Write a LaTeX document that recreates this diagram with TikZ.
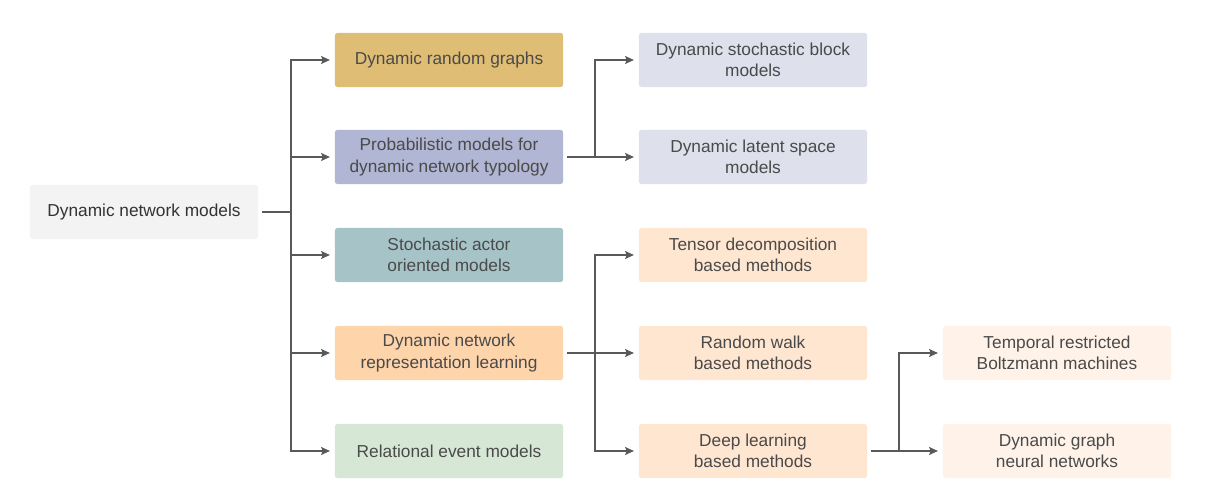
\documentclass[tikz,border=0pt]{standalone}
\usepackage{fontspec}
\setmainfont{Liberation Sans}
\usetikzlibrary{arrows.meta}

\definecolor{txt}{HTML}{4A4A4A}
\definecolor{lnk}{HTML}{595959}
\definecolor{rootfill}{HTML}{F3F3F3}
\definecolor{goldfill}{HTML}{DFBD74}
\definecolor{lilacfill}{HTML}{B0B6D3}
\definecolor{tealfill}{HTML}{A6C4C8}
\definecolor{orangefill}{HTML}{FED4AB}
\definecolor{greenfill}{HTML}{D6E8D5}
\definecolor{palelilac}{HTML}{DEE0EC}
\definecolor{paleorange}{HTML}{FFE6D1}
\definecolor{paleorangeii}{HTML}{FFF3E9}

\begin{document}
\begin{tikzpicture}[x=0.025cm,y=-0.025cm,
    box/.style={rounded corners=0.06cm, minimum width=5.7cm, minimum height=1.35cm,
        inner sep=0pt, align=center, text=txt, font=\fontsize{12.3}{15}\selectfont},
    link/.style={draw=lnk, line width=0.85pt},
    from/.style={shorten <=0.1cm},
    arr/.style={link, -{Stealth[length=0.22cm,width=0.2cm,inset=0.04cm]}, shorten >=0.12cm}]
    \useasboundingbox (0,0) rectangle (1215,490);
    % root
    \node[box, fill=rootfill, text=black!80] (root) at (144,212) {Dynamic network models};
    % second column
    \node[box, fill=goldfill] (drg) at (449,60) {Dynamic random graphs};
    \node[box, fill=lilacfill] (prob) at (449,157) {Probabilistic models for\\dynamic network typology};
    \node[box, fill=tealfill] (saom) at (449,255) {Stochastic actor\\oriented models};
    \node[box, fill=orangefill] (dnrl) at (449,353) {Dynamic network\\representation learning};
    \node[box, fill=greenfill] (rem) at (449,451) {Relational event models};
    % third column
    \node[box, fill=palelilac] (dsbm) at (753,60) {Dynamic stochastic block\\models};
    \node[box, fill=palelilac] (dlsm) at (753,157) {Dynamic latent space\\models};
    \node[box, fill=paleorange] (tensor) at (753,255) {Tensor decomposition\\based methods};
    \node[box, fill=paleorange] (rw) at (753,353) {Random walk\\based methods};
    \node[box, fill=paleorange] (deep) at (753,451) {Deep learning\\based methods};
    % fourth column
    \node[box, fill=paleorangeii] (trbm) at (1057,353) {Temporal restricted\\Boltzmann machines};
    \node[box, fill=paleorangeii] (dgnn) at (1057,451) {Dynamic graph\\neural networks};

    % buses
    \coordinate (b1) at (291,212);
    \coordinate (b2) at (595,157);
    \coordinate (b3) at (595,353);
    \coordinate (b4) at (899,451);

    \draw[link, from] (root) -- (b1);
    \foreach \n in {drg,prob,saom,dnrl,rem}
        \draw[arr] (b1) |- (\n);

    \draw[link, from] (prob) -- (b2);
    \draw[arr] (b2) |- (dsbm);
    \draw[arr] (b2) -- (dlsm);

    \draw[arr, from] (dnrl) -- (rw);
    \draw[arr] (b3) |- (tensor);
    \draw[arr] (b3) |- (deep);

    \draw[arr, from] (deep) -- (dgnn);
    \draw[arr] (b4) |- (trbm);
\end{tikzpicture}
\end{document}
